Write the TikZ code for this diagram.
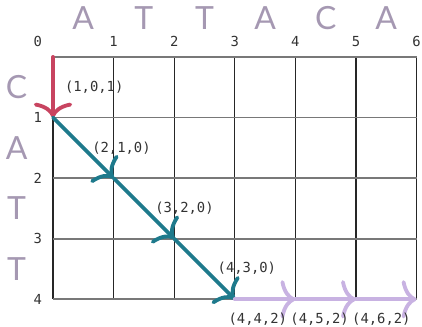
\documentclass[tikz,border=0pt]{standalone}
\usepackage{fontspec}
\usetikzlibrary{arrows.meta}
\newfontfamily\seqfont{Lato}
\newfontfamily\tuplefont{DejaVu Sans Mono}
\definecolor{seqgray}{RGB}{165,152,178}
\definecolor{downred}{RGB}{200,68,96}
\definecolor{diagteal}{RGB}{30,122,140}
\definecolor{rightlilac}{RGB}{200,178,226}
\definecolor{rowline}{RGB}{120,120,120}
\definecolor{tupletext}{RGB}{50,50,50}
\tikzset{
  base/.style={font=\seqfont\fontsize{15}{15}\selectfont, text=seqgray},
  idx/.style={font=\tuplefont\fontsize{6.5}{7}\selectfont, text=tupletext},
  tuple/.style={font=\tuplefont\fontsize{6.5}{7}\selectfont, text=tupletext},
  move/.style={line width=1.8pt, line cap=round, -{To[length=7pt,width=18pt,round]}},
}
\begin{document}
\begin{tikzpicture}
    \useasboundingbox (-0.875,0.94) rectangle (6.09,-4.446);

    % grid
    \foreach \i in {0,...,6}
        \draw[line width=0.6pt, black!85] (\i,0) -- (\i,-4);
    \foreach \j in {0,...,4}
        \draw[line width=0.9pt, rowline] (0,-\j) -- (6,-\j);
    \foreach \i in {0,...,6}
        \foreach \j in {0,...,4}
            \coordinate (p\j\i) at (\i,-\j);

    % indices
    \node[idx] (n0) at (-0.25,0.25) {0};
    \foreach \i in {1,...,6}
        \node[idx] (c\i) at (\i,0.25) {\i};
    \foreach \j in {1,...,4}
        \node[idx] (r\j) at (-0.25,-\j) {\j};

    % sequences
    \foreach \s [count=\i] in {A,T,T,A,C,A}
        \node[base] (top\i) at (\i-0.5,0.64) {\s};
    \foreach \s [count=\j] in {C,A,T,T}
        \node[base] (left\j) at (-0.6,-\j+0.5) {\s};

    % path
    \draw[move, downred] (p00) -- (p10);
    \draw[move, diagteal] (p10) -- (p21);
    \draw[move, diagteal] (p21) -- (p32);
    \draw[move, diagteal] (p32) -- (p43);
    \draw[move, rightlilac] (p43) -- (p44);
    \draw[move, rightlilac] (p44) -- (p45);
    \draw[move, rightlilac] (p45) -- (p46);

    % states
    \node[tuple] (s1) at ([xshift=0.68cm, yshift=0.5cm]p10) {(1,0,1)};
    \node[tuple] (s2) at ([xshift=0.13cm, yshift=0.5cm]p21) {(2,1,0)};
    \node[tuple] (s3) at ([xshift=0.17cm, yshift=0.5cm]p32) {(3,2,0)};
    \node[tuple] (s4) at ([xshift=0.2cm, yshift=0.51cm]p43) {(4,3,0)};
    \node[tuple] (s5) at ([xshift=-0.62cm, yshift=-0.33cm]p44) {(4,4,2)};
    \node[tuple] (s6) at ([xshift=-0.6cm, yshift=-0.33cm]p45) {(4,5,2)};
    \node[tuple] (s7) at ([xshift=-0.58cm, yshift=-0.33cm]p46) {(4,6,2)};
\end{tikzpicture}
\end{document}
